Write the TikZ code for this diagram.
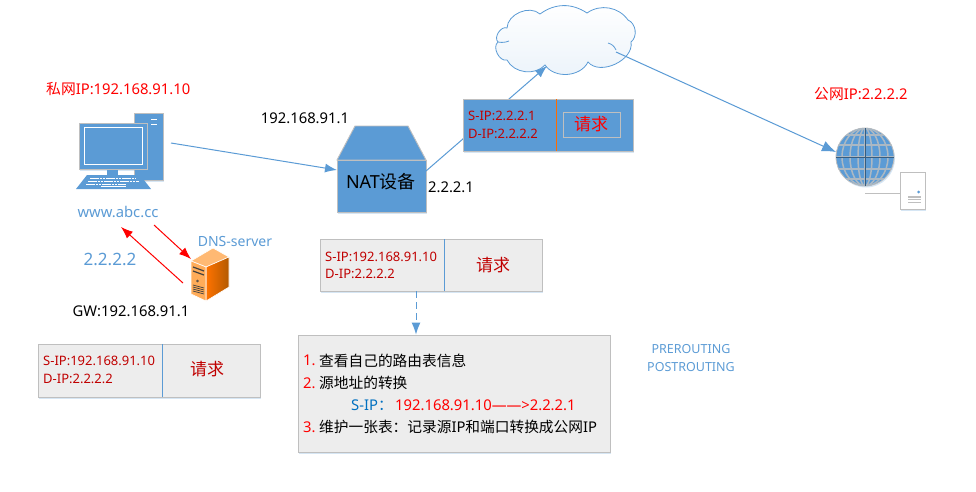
\documentclass[tikz,border=0pt]{standalone}
\usepackage{fontspec}
\setmainfont{Noto Sans}
\newfontfamily\cjk{Noto Sans CJK SC}
\usetikzlibrary{arrows.meta,shadows}
\definecolor{boxblue}{HTML}{5B9BD5}
\definecolor{boxgray}{HTML}{EDEDED}
\definecolor{edgegray}{HTML}{BFBFBF}
\definecolor{darkred}{HTML}{C00000}
\definecolor{srcblue}{HTML}{0070C0}
\newcommand{\fsize}[1]{\fontsize{#1}{#1}\selectfont}
\tikzset{
  softshadow/.style={drop shadow={shadow xshift=1pt,shadow yshift=-1.5pt,fill=boxblue,opacity=.25}},
  graybox/.style={draw=edgegray,fill=boxgray,line width=0.9pt,inner sep=0pt,softshadow},
  bluebox/.style={draw=edgegray,fill=boxblue,line width=0.9pt,inner sep=0pt,softshadow},
  lefttext/.style={anchor=west,inner sep=0pt,font=\fsize{14.8}},
  midtext/.style={inner sep=0pt,font=\fsize{14.8}},
  ipline/.style={anchor=west,inner sep=0pt,text=darkred,font=\fsize{13}},
  asktext/.style={inner sep=0pt,font=\cjk\fsize{17}},
  blueline/.style={draw=boxblue,line width=1pt},
  bluearrow/.style={blueline,-{Latex[length=12pt,width=9pt]}},
  redarrow/.style={draw=red,line width=1pt,-{Latex[length=12pt,width=9pt]}},
}
\begin{document}
\begin{tikzpicture}[x=1pt,y=-1pt]
  \useasboundingbox (0,0) rectangle (976,491);
  % Connector ends
  \coordinate (pcout) at (171,143);
  \coordinate (natin) at (337,170);
  \coordinate (natout) at (426,171);
  \coordinate (cloudin) at (547,66);
  \coordinate (cloudout) at (616,52);
  \coordinate (globein) at (836,152);
  \coordinate (wwwout) at (154,225);
  \coordinate (dnsin) at (191,259);
  \coordinate (dnsout) at (183,283);
  \coordinate (wwwin) at (121,227);
  % Cloud
  \draw[draw=boxblue,line width=0.8pt,top color=white,bottom color=boxblue!12]
    (498,42) to[bend left=80] (507,28) to[bend left=65] (540,14)
    to[bend left=35] (587,13) to[bend left=45] (628,20)
    to[bend left=60] (631,42) to[bend left=75] (588,62)
    to[bend left=60] (545,65) to[bend left=55] (507,60)
    to[bend left=80] (498,42);
  \draw[draw=boxblue,line width=0.8pt] (608,43) to[bend left=25] (616,50);
  \draw[draw=boxblue,line width=0.8pt] (498,42) to[bend right=15] (509,41);
  % PC tower
  \node[bluebox,minimum width=29pt,minimum height=67pt] (tower) at (148.5,146.5) {};
  \draw[white,line width=1.6pt] (151,119.5) -- (157,119.5);
  \draw[white,line width=1.6pt] (151,124.5) -- (157,124.5);
  % PC monitor
  \draw[fill=boxblue,draw=none] (107,168) rectangle (118,176);
  \node[bluebox,minimum width=68pt,minimum height=46pt] (monitor) at (113,146) {};
  \node[draw=white,line width=0.8pt,minimum width=58pt,minimum height=37pt,inner sep=0pt] (screen) at (113,145.5) {};
  % PC keyboard
  \draw[fill=boxblue,draw=none] (87,175) -- (140,175) -- (151,189) -- (76,189) -- cycle;
  \foreach \ky/\kl/\kr in {178.5/90/136, 181.5/88/139, 184.5/86/126} {
    \draw[white,line width=1.6pt,dash pattern=on 2.5pt off 0.7pt] (\kl,\ky) -- (\kr,\ky);
  }
  \draw[white,line width=1.4pt] (101,186.3) -- (126,186.3);
  \node[midtext,text=boxblue] (www) at (118,212) {www.abc.cc};
  \node[lefttext,text=red] (privateip) at (46,88.5) {{\cjk 私网}IP:192.168.91.10};
  % Client to NAT
  \draw[bluearrow] (pcout) -- (natin);
  \node[midtext] (natinip) at (305,118) {192.168.91.1};
  % NAT device
  \draw[bluebox] (355,126) -- (408,126) -- (426,160) -- (337,160) -- cycle;
  \node[bluebox,minimum width=89pt,minimum height=52pt] (nat) at (381.5,186) {};
  \node[midtext,font=\fsize{18}] (natname) at (381,182) {NAT{\cjk 设备}};
  \node[midtext] (natoutip) at (451,187) {2.2.2.1};
  % NAT to cloud, the packet sits on the line
  \draw[bluearrow] (natout) -- (cloudin);
  \node[bluebox,minimum width=170pt,minimum height=52pt] (pktnat) at (548,125) {};
  \draw[draw=orange!85!red,line width=0.9pt] (556,99) -- (556,151);
  \node[draw=edgegray,line width=0.8pt,minimum width=57pt,minimum height=25pt,inner sep=0pt] (askbox) at (591.5,124.5) {};
  \node[asktext,text=red] (asknat) at (591,124) {请求};
  \node[ipline] (snat) at (468,115.5) {S-IP:2.2.2.1};
  \node[ipline] (dnat) at (468,133.5) {D-IP:2.2.2.2};
  % Cloud to web server
  \draw[bluearrow,-{Latex[length=14pt,width=11pt]}] (cloudout) -- (globein);
  \node[lefttext,text=red] (publicip) at (814,94.5) {{\cjk 公网}IP:2.2.2.2};
  % Globe
  \draw[draw=edgegray,line width=0.8pt] (865,193) -- (900,193);
  \node[circle,fill=boxblue,draw=edgegray,line width=0.8pt,minimum size=58pt,inner sep=0pt,softshadow] (globe) at (865,157) {};
  \begin{scope}
    \clip (865,157) circle (29pt);
    \foreach \rx in {0,7,15,23} {
      \draw[edgegray!80!boxblue,line width=1.5pt] (865,157) ellipse [x radius=\rx pt,y radius=29pt];
    }
    \foreach \gy in {-22,-12,0,12,22} {
      \draw[edgegray!80!boxblue,line width=1.5pt] (836,157+\gy) -- (894,157+\gy);
    }
    \draw[boxblue!60!black,line width=0.5pt] (836,157) -- (894,157);
    \draw[boxblue!60!black,line width=0.5pt] (865,128) -- (865,186);
  \end{scope}
  % Web server box
  \node[draw=edgegray,fill=white,line width=0.8pt,minimum width=25pt,minimum height=37pt,inner sep=0pt,softshadow] (webbox) at (912.5,190.5) {};
  \fill[boxblue] (918.5,192) circle (1.5pt);
  \foreach \ly in {197,199.7,202.4} {
    \draw[edgegray,line width=1.1pt] (908,\ly) -- (921,\ly);
  }
  % DNS server
  \node[midtext,text=boxblue,font=\fsize{14}] (dnsname) at (235,241) {DNS-server};
  \draw[fill=orange!55!white,draw=white,line width=0.6pt] (213,248) -- (229,257) -- (206,267) -- (191,261) -- cycle;
  \draw[draw=white,line width=0.6pt,left color=orange!90!red,right color=orange!70!black] (206,267) -- (229,257) -- (229,287) -- (206,301) -- cycle;
  \draw[draw=white,line width=0.6pt,fill=orange!65!white] (191,261) -- (206,267) -- (206,301) -- (191,294) -- cycle;
  \draw[black!75,line width=1.2pt] (193,267) -- (204,271);
  \draw[black!75,line width=1.2pt] (193,271) -- (204,275);
  \draw[black!75] (197.5,281) circle (1pt);
  \foreach \vy in {287,289,291,293} {
    \draw[black!75,line width=0.7pt] (193,\vy-2) -- (204,\vy+1);
  }
  \node[midtext,text=boxblue,font=\fsize{17}] (dnsip) at (110,259) {2.2.2.2};
  \draw[redarrow] (wwwout) -- (dnsin);
  \draw[redarrow] (dnsout) -- (wwwin);
  \node[midtext] (gateway) at (131,311) {GW:192.168.91.1};
  % Packet at the client
  \node[graybox,minimum width=222pt,minimum height=53pt] (pktclient) at (149,370.5) {};
  \draw[blueline] (162,344) -- (162,397);
  \node[ipline] (sclient) at (43,361) {S-IP:192.168.91.10};
  \node[ipline] (dclient) at (43,379) {D-IP:2.2.2.2};
  \node[asktext,text=darkred] (askclient) at (207,369) {请求};
  % Packet at the NAT device
  \node[graybox,minimum width=222pt,minimum height=52pt] (pktmid) at (431,265) {};
  \draw[blueline] (444,239) -- (444,291);
  \node[ipline] (smid) at (325,256.5) {S-IP:192.168.91.10};
  \node[ipline] (dmid) at (325,273.5) {D-IP:2.2.2.2};
  \node[asktext,text=darkred] (askmid) at (493,265) {请求};
  % NAT steps
  \node[graybox,minimum width=312pt,minimum height=117pt] (steps) at (454,393.5) {};
  \draw[blueline,dashed,dash pattern=on 7pt off 4pt,-{Latex[length=12pt,width=9pt]}] (pktmid.south -| 416,0) -- (steps.north -| 416,0);
  \node[lefttext,text=red] (numone) at (303,360.5) {1.};
  \node[lefttext,font=\cjk\fsize{14.7}] (stepone) at (319,360.5) {查看自己的路由表信息};
  \node[lefttext,text=red] (numtwo) at (303,383) {2.};
  \node[lefttext,font=\cjk\fsize{14.7}] (steptwo) at (319,383) {源地址的转换};
  \node[lefttext,text=srcblue] (srcip) at (351,405) {S-IP{\cjk ：}};
  \node[lefttext,text=red] (srcchange) at (395,405) {192.168.91.10——>2.2.2.1};
  \node[lefttext,text=red] (numthree) at (303,427) {3.};
  \node[lefttext] (stepthree) at (319,427) {{\cjk\fsize{14.7}维护一张表：记录源}IP{\cjk\fsize{14.7}和端口转换成公网}IP};
  % Chain names
  \node[midtext,text=boxblue,font=\fsize{12.5}] (prerouting) at (691,349) {PREROUTING};
  \node[midtext,text=boxblue,font=\fsize{12.5}] (postrouting) at (691,367) {POSTROUTING};
\end{tikzpicture}
\end{document}
